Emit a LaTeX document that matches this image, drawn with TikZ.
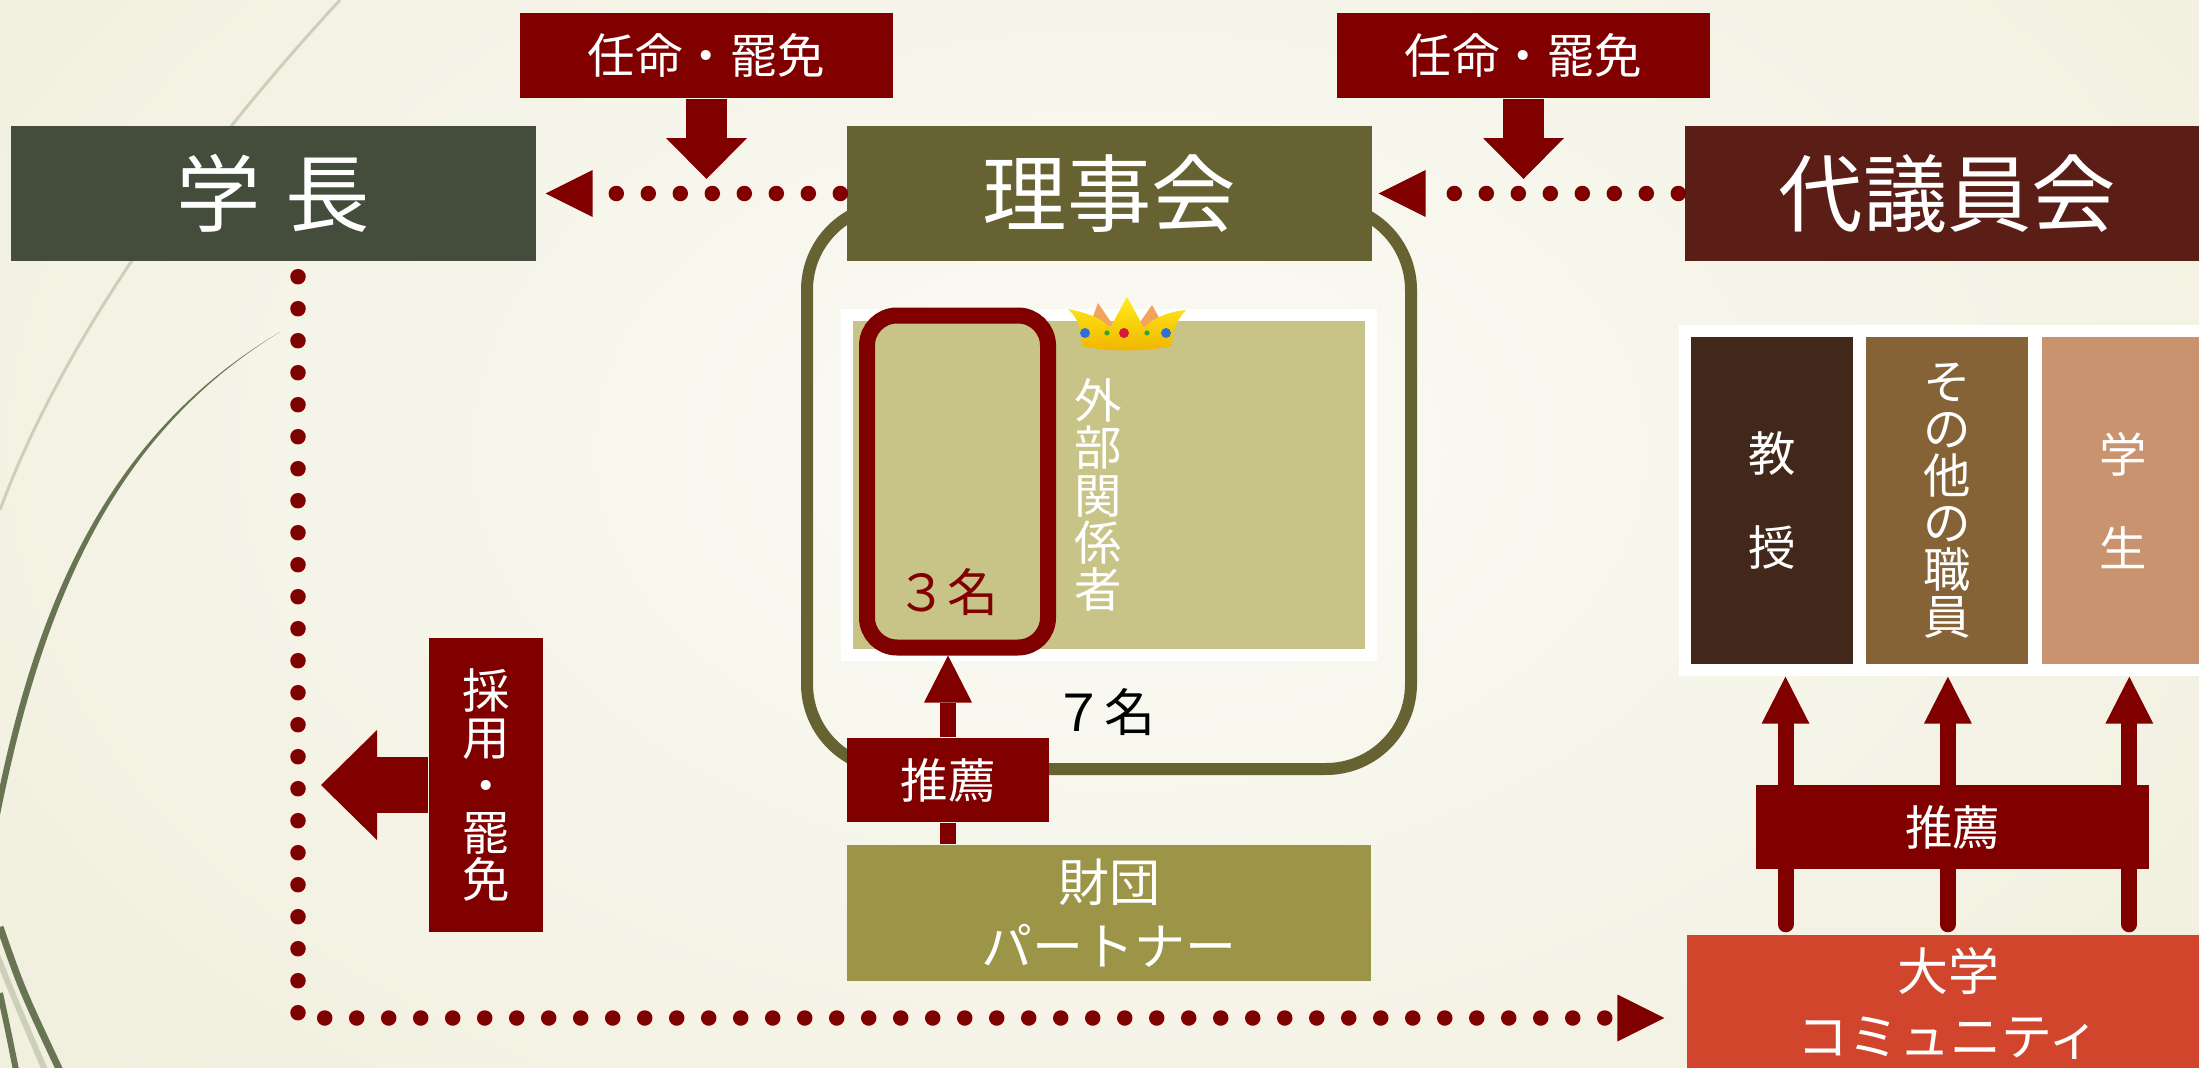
\documentclass[tikz,border=0pt]{standalone}
\usepackage{fontspec}
\setmainfont{Noto Sans CJK JP}
\usepackage{tikz}
\usetikzlibrary{arrows.meta, positioning}

\definecolor{darkred}{HTML}{800000}
\definecolor{presgreen}{HTML}{444C3B}
\definecolor{boardolive}{HTML}{666232}
\definecolor{councilbrown}{HTML}{5B1E16}
\definecolor{khaki}{HTML}{C8C488}
\definecolor{foundation}{HTML}{9C9446}
\definecolor{profbrown}{HTML}{42281A}
\definecolor{staffbrown}{HTML}{856337}
\definecolor{studenttan}{HTML}{C9936F}
\definecolor{commred}{HTML}{D1452C}
\definecolor{bgwhite}{HTML}{FBFBF6}
\definecolor{bgcream}{HTML}{E8E4C8}
\definecolor{leafgreen}{HTML}{687553}
\definecolor{leaflight}{HTML}{CDD0B8}
\definecolor{crownyellow}{HTML}{FFEC1A}
\definecolor{crowngold}{HTML}{F0B400}
\definecolor{crownorange}{HTML}{F2A45A}
\definecolor{gemblue}{HTML}{2F6FD8}
\definecolor{gemred}{HTML}{D8183A}
\definecolor{gemgreen}{HTML}{2DA63A}

\tikzset{
    inner sep=0pt, % boxes get their size by hand
    every node/.style={text=white},
}
\tikzstyle{bigbox}=[rectangle, minimum width=5.25cm, minimum height=1.35cm, font=\fontsize{24}{28}\selectfont]
\tikzstyle{redbox}=[rectangle, fill=darkred, font=\fontsize{13.5}{16}\selectfont]
\tikzstyle{tate}=[align=center, font=\fontsize{13.5}{13.4}\selectfont]
\tikzstyle{member}=[rectangle, minimum width=1.62cm, minimum height=3.27cm, align=center, font=\fontsize{13.5}{13.4}\selectfont]
\tikzstyle{fatarrow}=[draw=darkred, line width=.41cm, -{Triangle[length=.41cm, width=.81cm, line width=0pt]}]
\tikzstyle{slimarrow}=[draw=darkred, line width=.16cm, -{Triangle[length=.47cm, width=.48cm, line width=0pt]}]
\tikzstyle{dotline}=[draw=darkred, line width=.155cm, line cap=round, dash pattern=on 0cm off .32cm, -{Triangle[length=.47cm, width=.47cm, line width=0pt]}]

\begin{document}
\begin{tikzpicture}
    \useasboundingbox (0,0) rectangle (21.99,-10.68);
    \clip (0,0) rectangle (21.99,-10.68);

    % backdrop
    \shade[inner color=bgwhite, outer color=bgcream] (-15.8,13) rectangle (38.2,-22);
    \draw[leaflight, line width=.03cm] (3.40,0) .. controls (2.2,-1.3) and (0.7,-3.2) .. (0,-5.1);
    \fill[leafgreen] (2.80,-3.32) .. controls (1.2,-4.3) and (0.45,-5.9) .. (0,-8.15)
        -- (-0.05,-8.1) .. controls (0.38,-5.9) and (1.15,-4.3) .. cycle;
    \draw[leaflight, line width=.06cm] (-0.05,-9.5) .. controls (0.15,-10.0) .. (0.47,-10.75);
    \draw[leafgreen, line width=.07cm] (0,-9.27) .. controls (0.22,-9.9) .. (0.62,-10.75);
    \draw[leafgreen, line width=.06cm] (0,-9.93) .. controls (0.08,-10.3) .. (0.17,-10.75);

    % board of trustees
    \node[draw=boardolive, line width=.12cm, rounded corners=.85cm, minimum width=6.04cm, minimum height=5.64cm] (board) at (11.09,-4.87) {};
    \node[bigbox, fill=presgreen] (gakucho) at (2.735,-1.935) {学\hspace{.25cm}長};
    \node[bigbox, fill=boardolive] (rijikai) at (11.095,-1.935) {理事会};
    \node[bigbox, fill=councilbrown] (daigiin) at (19.475,-1.935) {代議員会};
    \node[redbox, minimum width=3.73cm, minimum height=.85cm] (ninmeiL) at (7.065,-.555) {任命・罷免};
    \node[redbox, minimum width=3.73cm, minimum height=.85cm] (ninmeiR) at (15.235,-.555) {任命・罷免};
    \coordinate (tipL) at (7.065,-1.79);
    \coordinate (tipR) at (15.235,-1.79);
    \draw[fatarrow] (ninmeiL.south) -- (tipL);
    \draw[fatarrow] (ninmeiR.south) -- (tipR);

    % outside members
    \node[fill=khaki, draw=white, line width=.12cm, minimum width=5.24cm, minimum height=3.40cm] (outside) at (11.09,-4.85) {};
    \node[draw=darkred, line width=.16cm, rounded corners=.3cm, minimum width=1.81cm, minimum height=3.32cm] (three) at (9.575,-4.815) {};
    \node[text=darkred, font=\fontsize{14.5}{17}\selectfont] (threelbl) at (9.47,-5.92) {３名};
    \node[tate] (gaibu) at (10.98,-4.95) {外\\部\\関\\係\\者};
    \node[text=black, font=\fontsize{14.5}{17}\selectfont] (seven) at (11.04,-7.12) {７名};

    % crown
    \fill[crownorange] (10.88,-3.30) -- (10.98,-3.03) -- (11.13,-3.25) -- cycle;
    \fill[crownorange] (11.38,-3.25) -- (11.52,-3.05) -- (11.66,-3.30) -- cycle;
    \shade[top color=crownyellow, bottom color=crowngold] (10.68,-3.09)
        .. controls (10.92,-3.14) and (11.04,-3.20) .. (11.10,-3.28) -- (11.27,-2.97) -- (11.44,-3.28)
        .. controls (11.52,-3.19) and (11.66,-3.12) .. (11.86,-3.10)
        .. controls (11.76,-3.20) and (11.72,-3.34) .. (11.72,-3.46)
        .. controls (11.42,-3.52) and (11.10,-3.52) .. (10.82,-3.46)
        .. controls (10.82,-3.30) and (10.78,-3.18) .. cycle;
    \fill[gemblue] (10.85,-3.33) circle (.05);
    \fill[gemblue] (11.66,-3.33) circle (.05);
    \fill[gemred] (11.24,-3.33) circle (.05);
    \foreach \g in {11.07,11.47} {
        \fill[crowngold!70!yellow] (\g-.04,-3.33) circle (.022) (\g+.04,-3.33) circle (.022)
            (\g,-3.29) circle (.022) (\g,-3.37) circle (.022);
        \fill[gemgreen] (\g,-3.33) circle (.026);
    }

    % foundation partners
    \node[redbox, minimum width=2.02cm, minimum height=.84cm] (suisenA) at (9.48,-7.80) {推薦};
    \node[fill=foundation, minimum width=5.24cm, minimum height=1.36cm, align=center, font=\fontsize{14.5}{18}\selectfont] (zaidan) at (11.09,-9.13) {財団\\パートナー};
    \draw[darkred, line width=.16cm] (zaidan.north -| suisenA.south) -- (suisenA.south);
    \draw[slimarrow] (suisenA.north) -- (suisenA.north |- three.south);

    % council members
    \node[fill=white, minimum width=5.31cm, minimum height=3.51cm] (members) at (19.445,-5.005) {};
    \node[member, fill=profbrown, font=\fontsize{13.5}{26.7}\selectfont] (kyoju) at (17.72,-5.005) {教\\授};
    \node[member, fill=staffbrown, right=.12cm of kyoju] (sonota) {そ\\の\\他\\の\\職\\員};
    \node[member, fill=studenttan, right=.12cm of sonota, font=\fontsize{13.5}{26.7}\selectfont] (gakusei) {学\\生};
    \node[fill=commred, minimum width=5.23cm, minimum height=1.36cm, align=center, font=\fontsize{14.5}{18.5}\selectfont] (univ) at (19.485,-10.03) {大学\\コミュニティ};
    \foreach \m/\dx in {kyoju/.135, sonota/.005, gakusei/.065}
        \draw[slimarrow, line cap=round, shorten <=.1cm] ([xshift=\dx cm]\m.south |- univ.north) -- ([xshift=\dx cm]\m.south |- members.south);
    \node[redbox, minimum width=3.93cm, minimum height=.84cm] (suisenB) at (19.525,-8.27) {推薦};

    % president
    \node[redbox, minimum width=1.14cm, minimum height=2.94cm, align=center, font=\fontsize{13.5}{13.4}\selectfont] (saiyo) at (4.86,-7.85) {採\\用\\・\\罷\\免};
    \coordinate (saiyotip) at (3.21,-7.85);
    \draw[darkred, line width=.56cm, -{Triangle[length=.56cm, width=1.10cm, line width=0pt]}] (saiyo.west) -- (saiyotip);

    % dotted lines
    \draw[dotline, shorten >=.09cm] ([xshift=-.06cm]rijikai.west) -- (gakucho.east);
    \draw[dotline, shorten >=.06cm] ([xshift=-.06cm]daigiin.west) -- (rijikai.east);
    \coordinate (elbow) at (2.98,-10.18);
    \draw[dotline, shorten >=.22cm] ([xshift=.245cm, yshift=-.15cm]gakucho.south) -- (elbow) -- (elbow -| univ.west);
\end{tikzpicture}
\end{document}
